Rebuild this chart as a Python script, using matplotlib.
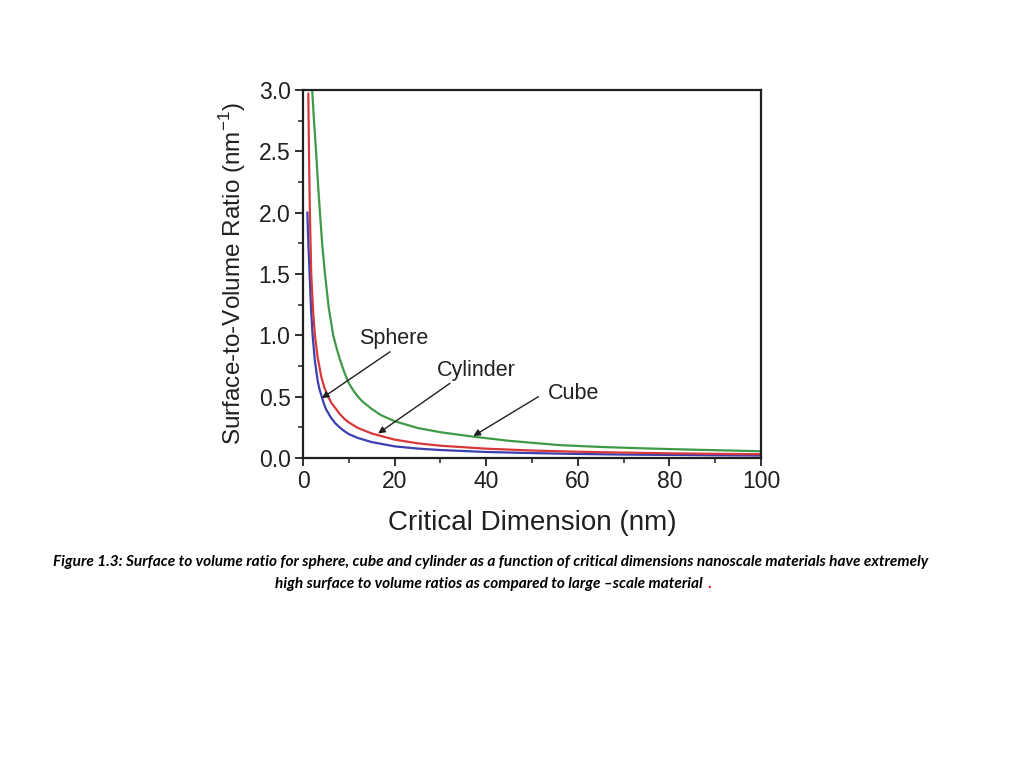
import matplotlib
matplotlib.use("Agg")
import matplotlib.pyplot as plt
from matplotlib.ticker import MultipleLocator, FormatStrFormatter

# values
sphere_x = [0.95, 1.1, 1.2, 1.45, 1.75, 2.1, 2.6, 3.2, 3.6, 4.1, 4.5, 5, 6, 7,
            8, 9, 10, 12, 15, 20, 25, 30, 40, 50, 60, 70, 80, 90, 100]
sphere_y = [2.0, 1.82, 1.72, 1.5, 1.22, 1.0, 0.79, 0.63, 0.56, 0.5, 0.45, 0.4,
            0.335, 0.285, 0.25, 0.22, 0.195, 0.163, 0.13, 0.095, 0.077, 0.065,
            0.049, 0.04, 0.033, 0.028, 0.025, 0.022, 0.02]

cylinder_x = [1.16, 1.3, 1.5, 1.8, 2.2, 2.6, 3.2, 4, 4.7, 5.5, 6.2, 7, 8, 9,
              10, 12, 15, 20, 25, 30, 40, 50, 60, 70, 80, 90, 100]
cylinder_y = [2.97, 2.5, 2.0, 1.5, 1.2, 1.0, 0.82, 0.66, 0.57, 0.5, 0.45, 0.41,
              0.36, 0.32, 0.29, 0.245, 0.2, 0.15, 0.12, 0.1, 0.076, 0.061,
              0.051, 0.044, 0.038, 0.034, 0.031]

cube_x = [2.0, 2.4, 2.85, 3.3, 3.7, 4.2, 4.8, 5.6, 6.6, 7.3, 8, 9, 10, 11, 12,
          13, 15, 17, 20, 25, 30, 37, 45, 56, 65, 75, 85, 100]
cube_y = [3.0, 2.75, 2.5, 2.22, 2.0, 1.74, 1.5, 1.23, 1.0, 0.9, 0.81, 0.7, 0.61,
          0.55, 0.5, 0.46, 0.4, 0.35, 0.3, 0.245, 0.21, 0.175, 0.14, 0.105,
          0.09, 0.078, 0.068, 0.055]

# label text position, arrow start, arrow tip
labels = [
    ("Sphere", (19.7, 0.975), (19.0, 0.866), (4.1, 0.487)),
    ("Cylinder", (37.9, 0.717), (32.1, 0.609), (16.4, 0.2)),
    ("Cube", (59.0, 0.527), (51.4, 0.5), (37.2, 0.179)),
]

caption1 = ("Figure 1.3: Surface to volume ratio for sphere, cube and cylinder as a function "
            "of critical dimensions nanoscale materials have extremely")
caption2 = "high surface to volume ratios as compared to large \u2013scale material "

plt.rcParams["font.family"] = ["Liberation Sans", "DejaVu Sans"]
ink = "#202020"

fig = plt.figure(figsize=(10.24, 7.68), dpi=100)
ax = fig.add_axes([303 / 1024, 1 - 458 / 768, 458 / 1024, 368 / 768])

ax.plot(sphere_x, sphere_y, color="#3b3fb0", lw=1.6)
ax.plot(cylinder_x, cylinder_y, color="#d8383a", lw=1.6)
ax.plot(cube_x, cube_y, color="#3f9a48", lw=1.6)

for name, txt, start, tip in labels:
    ax.text(txt[0], txt[1], name, ha="center", va="center", fontsize=15.5,
            color=ink)
    ax.annotate("", xy=tip, xytext=start,
                arrowprops=dict(arrowstyle="-|>", color=ink, lw=1.0,
                                mutation_scale=10, shrinkA=0, shrinkB=0))

ax.set_xlim(0, 100)
ax.set_ylim(0, 3.0)
ax.xaxis.set_major_locator(MultipleLocator(20))
ax.xaxis.set_minor_locator(MultipleLocator(10))
ax.yaxis.set_major_locator(MultipleLocator(0.5))
ax.yaxis.set_minor_locator(MultipleLocator(0.25))
ax.yaxis.set_major_formatter(FormatStrFormatter("%.1f"))
ax.tick_params(which="major", direction="out", length=6, width=1.3, pad=3,
               labelsize=16.5, top=False, right=False, colors=ink)
ax.tick_params(which="minor", direction="out", length=3.5, width=1.1,
               top=False, right=False, colors=ink)
for s in ax.spines.values():
    s.set_linewidth(1.6)
    s.set_color(ink)

ax.set_xlabel("Critical Dimension (nm)", fontsize=20, labelpad=12, color=ink)
ax.set_ylabel("Surface-to-Volume Ratio (nm$^{\\mathregular{-1}}$)", fontsize=17.5,
              labelpad=8, color=ink)

cap_font = ["Lato", "DejaVu Sans"]
fig.text(491 / 1024, 1 - 562 / 768, caption1, ha="center", va="center",
         fontsize=11.1, fontweight="bold", fontstyle="italic", family=cap_font)
fig.text(706 / 1024, 1 - 584 / 768, caption2, ha="right", va="center",
         fontsize=11.1, fontweight="bold", fontstyle="italic", family=cap_font)
fig.text(707 / 1024, 1 - 584 / 768, ".", ha="left", va="center",
         fontsize=11.1, fontweight="bold", color="red", family=cap_font)

fig.savefig("out.png", dpi=100)
